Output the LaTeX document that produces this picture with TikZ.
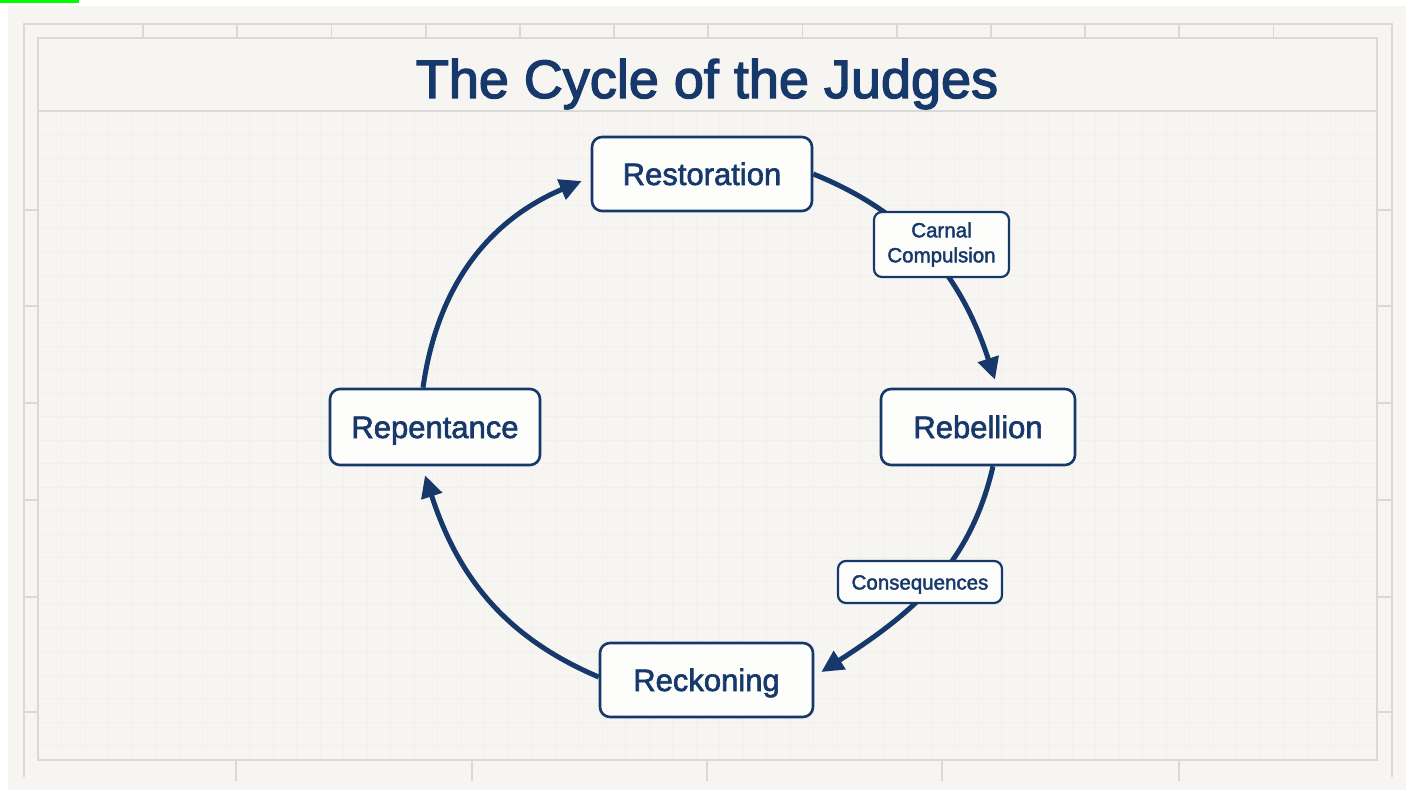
\documentclass[tikz,border=0pt]{standalone}
\usepackage{fontspec}
\setmainfont{Liberation Sans}
\newfontfamily\titlefont[FakeBold=2.5]{Liberation Sans}
\newfontfamily\medfont[FakeBold=2]{Liberation Sans}
\usetikzlibrary{arrows.meta}
\definecolor{navy}{RGB}{22,56,106}
\definecolor{panel}{RGB}{247,245,242}
\definecolor{frameline}{RGB}{218,217,215}
\definecolor{gridline}{RGB}{242,240,236}
\definecolor{boxfill}{RGB}{253,253,252}
\definecolor{marker}{RGB}{0,255,0}
\begin{document}
\begin{tikzpicture}[x=1pt,y=-1pt,
  stage/.style={draw=navy, line width=2.6pt, rounded corners=10pt, fill=boxfill, text=navy,
    font=\medfont\fontsize{31}{36}\selectfont, inner sep=0pt, text height=22pt, text depth=0pt},
  tag/.style={draw=navy, line width=2.2pt, rounded corners=8pt, fill=boxfill, text=navy,
    font=\medfont\fontsize{20.5}{25}\selectfont, inner sep=0pt, align=center},
  flow/.style={draw=navy, line width=5pt, -{Triangle[length=22pt,width=21pt]}},
  frameln/.style={draw=frameline, line width=1.8pt},
  gridln/.style={draw=gridline, line width=0.7pt}]
\useasboundingbox (0,0) rectangle (1409,792);
\fill[white] (0,0) rectangle (1409,792);
\fill[panel] (8,6) rectangle (1406,790);
\fill[marker] (0,0) rectangle (79,3);
% faint grid
\begin{scope}
\clip (38,111) rectangle (1377,760);
\foreach \i in {0,...,57} {
  \draw[gridln] ({38+23.5*\i},111) -- ({38+23.5*\i},760);
}
\foreach \j in {0,...,28} {
  \draw[gridln] (38,{111+23.5*\j}) -- (1377,{111+23.5*\j});
}
\end{scope}
% frame
\draw[frameln] (24,777) -- (24,24) -- (1392,24) -- (1392,777);
\draw[frameln] (38,38) rectangle (1377,760);
\draw[frameln] (38,111) -- (1377,111);
\foreach \k in {0,...,12} {
  \draw[frameln] ({143+94.2*\k},24) -- ({143+94.2*\k},38);
}
\foreach \y in {210,306,403,500,597,712} {
  \draw[frameln] (24,\y) -- (38,\y);
  \draw[frameln] (1377,\y) -- (1392,\y);
}
\foreach \x in {236,472,707,942,1179} {
  \draw[frameln] (\x,760) -- (\x,781);
}
% title
\node[text=navy, font=\titlefont\fontsize{54}{60}\selectfont, anchor=base, inner sep=0pt] (title) at (707,98) {The Cycle of the Judges};
% stages
\node[stage, minimum width=220pt, minimum height=74pt] (rest) at (702,174) {Restoration};
\node[stage, minimum width=194pt, minimum height=76pt] (rebel) at (978,427) {Rebellion};
\node[stage, minimum width=213pt, minimum height=74pt] (reck) at (706.5,680) {Reckoning};
\node[stage, minimum width=210pt, minimum height=76pt] (repent) at (435,427) {Repentance};
% connectors
\draw[flow] (rest.east) to[out=-22,in=108] ([xshift=17pt,yshift=8pt]rebel.north);
\draw[flow] ([xshift=15pt]rebel.south) to[out=-103,in=33] ([xshift=7pt,yshift=8pt]reck.east);
\draw[flow] ([yshift=3pt]reck.west) to[out=157,in=-72] ([xshift=-10pt,yshift=-9pt]repent.south);
\draw[flow] ([xshift=-12pt]repent.north) to[out=82,in=-157] ([xshift=-9pt,yshift=-7pt]rest.west);
% labels on connectors
\node[tag, minimum width=135pt, minimum height=65pt] (carnal) at (941.5,244.5) {Carnal\\Compulsion};
\node[tag, minimum width=164pt, minimum height=42pt, text height=15pt, text depth=0pt] (cons) at (920,582) {Consequences};
\end{tikzpicture}
\end{document}
